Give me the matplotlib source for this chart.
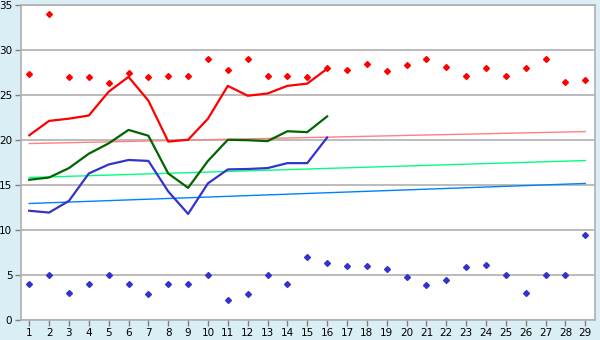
import numpy as np
import matplotlib
matplotlib.use("Agg")
import matplotlib.pyplot as plt

# =========================
# DATA
# =========================
days = list(range(1, 30))

max_pts = [27.4, 34.0, 27.0, 27.0, 26.4, 27.5, 27.0, 27.2, 27.2, 29.0,
           27.85, 29.0, 27.1, 27.2, 27.0, 28.0, 27.85, 28.5, 27.7, 28.4,
           29.0, 28.1, 27.2, 28.0, 27.2, 28.0, 29.0, 26.5, 26.7]
min_pts = [4.0, 5.0, 3.0, 4.0, 5.0, 4.0, 2.85, 4.0, 4.0, 5.0,
           2.2, 2.85, 5.0, 4.0, 7.0, 6.3, 6.0, 6.0, 5.65, 4.75,
           3.85, 4.5, 5.85, 6.1, 5.0, 3.0, 5.0, 5.0, 9.5]

line_days = list(range(1, 17))
red_line = [20.55, 22.15, 22.4, 22.75, 25.4, 27.05, 24.4, 19.85, 20.05, 22.4,
            26.05, 24.95, 25.2, 26.05, 26.3, 27.95]
green_line = [15.6, 15.85, 16.9, 18.5, 19.65, 21.15, 20.5, 16.3, 14.7, 17.7,
              20.05, 20.0, 19.9, 21.0, 20.9, 22.65]
blue_line = [12.15, 11.95, 13.25, 16.3, 17.3, 17.8, 17.7, 14.3, 11.8, 15.2,
             16.75, 16.8, 16.9, 17.45, 17.45, 20.3]

trend_days = [1, 29]
red_trend = [19.63, 20.96]
green_trend = [15.85, 17.74]
blue_trend = [12.96, 15.19]

# =========================
# PLOT
# =========================
bg = "#D9EEF5"
grid_col = "#B0B0B0"

fig = plt.figure(figsize=(6, 3.4), dpi=100, facecolor=bg)
ax = fig.add_axes([0.0345, 0.059, 0.9575, 0.925])
ax.set_facecolor("white")

ax.grid(axis="y", color=grid_col, linewidth=1.2)
ax.set_axisbelow(True)

ax.plot(trend_days, red_trend, color="#FF8080", lw=1.0)
ax.plot(trend_days, green_trend, color="#00FF80", lw=1.0)
ax.plot(trend_days, blue_trend, color="#0080FF", lw=1.0)

ax.plot(line_days, red_line, color="#FF0000", lw=1.6)
ax.plot(line_days, green_line, color="#006400", lw=1.6)
ax.plot(line_days, blue_line, color="#3333CC", lw=1.6)

ax.plot(days, max_pts, linestyle="none", marker="D", ms=3.0, color="#FF0000")
ax.plot(days, min_pts, linestyle="none", marker="D", ms=3.0, color="#3333CC")

ax.set_xlim(0.57, 29.5)
ax.set_ylim(0, 35)
ax.set_xticks(days)
ax.set_yticks(range(0, 36, 5))

for s in ax.spines.values():
    s.set_color(grid_col)
    s.set_linewidth(1.2)

ax.tick_params(axis="both", colors="#808080", labelcolor="black",
               labelsize=7.5, length=4, width=1, direction="out", pad=2)

plt.savefig("out.png", dpi=100, facecolor=bg)
